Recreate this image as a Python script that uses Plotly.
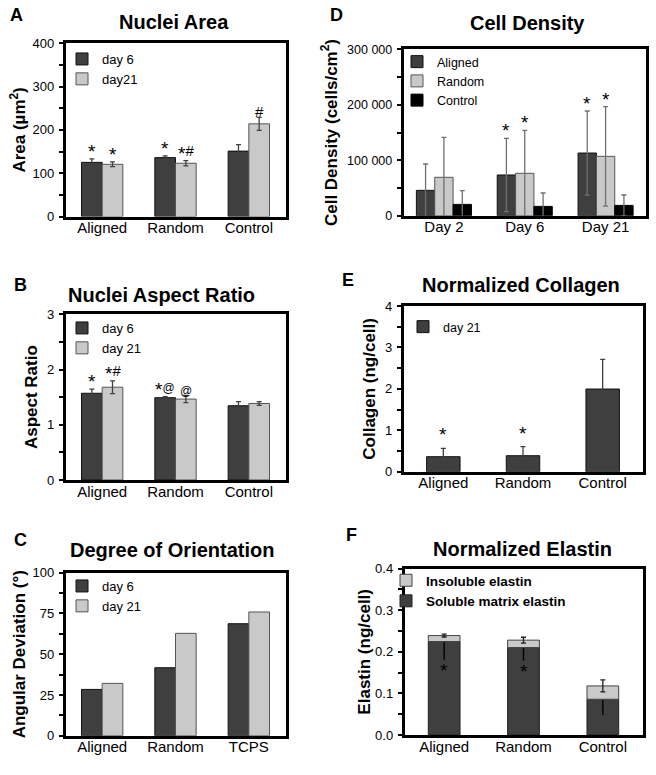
import plotly.graph_objects as go

W, H = 656, 775
FONT = "Liberation Sans, Arial, sans-serif"
DARK = "#3f3f3f"
LIGHT = "#c9c9c9"
BLACK = "#000000"

# ---------------- data ----------------
# A: Nuclei Area
a_cats = ["Aligned", "Random", "Control"]
a_day6 = [125, 136, 151]
a_day6_err = [8, 4, 15]
a_day21 = [120.5, 123, 214]
a_day21_err = [5.5, 6, 15]
a_day6_marks = ["*", "*", ""]
a_day21_marks = ["*", "*#", "#"]

# B: Nuclei Aspect Ratio
b_cats = ["Aligned", "Random", "Control"]
b_day6 = [1.57, 1.49, 1.345]
b_day6_err = [0.075, 0.02, 0.075]
b_day21 = [1.68, 1.465, 1.385]
b_day21_err = [0.115, 0.065, 0.035]
b_day6_marks = ["*", "*@", ""]
b_day21_marks = ["*#", "@", ""]

# C: Degree of Orientation
c_cats = ["Aligned", "Random", "TCPS"]
c_day6 = [28.4, 41.7, 68.7]
c_day21 = [32.1, 62.8, 75.9]

# D: Cell Density
d_cats = ["Day 2", "Day 6", "Day 21"]
d_aligned = [45700, 73400, 113000]
d_aligned_err = [47500, 66100, 75800]
d_random = [69200, 76400, 107000]
d_random_err = [72100, 77600, 89600]
d_control = [20400, 16800, 18600]
d_control_err = [24700, 24100, 18700]
d_aligned_marks = ["", "*", "*"]
d_random_marks = ["", "*", "*"]

# E: Normalized Collagen
e_cats = ["Aligned", "Random", "Control"]
e_day21 = [0.362, 0.386, 1.996]
e_day21_err = [0.2, 0.218, 0.716]
e_marks = ["*", "*", ""]

# F: Normalized Elastin
f_cats = ["Aligned", "Random", "Control"]
f_soluble = [0.2247, 0.2103, 0.0859]
f_soluble_err_minus = [0.044, 0.032, 0.038]
f_insoluble = [0.0143, 0.0177, 0.0321]
f_insoluble_err = [0.0034, 0.007, 0.0144]
f_marks = ["*", "*", ""]

# ---------------- layout helpers ----------------
def px_x(p):
    return p / W

def px_y(p):
    return 1 - p / H

fig = go.Figure()
annotations = []

panels = {
    # n: (x0, x1, y_top, y_bottom) in pixels
    1: (65.5, 285.5, 43.3, 216.5),
    2: (65.5, 285.5, 314.3, 480.0),
    3: (65.5, 285.5, 572.7, 735.7),
    4: (403.5, 646.0, 49.3, 215.7),
    5: (403.5, 642.5, 306.0, 471.7),
    6: (404.5, 642.5, 568.6, 735.0),
}

def axis_names(n):
    s = "" if n == 1 else str(n)
    return "x" + s, "y" + s, "xaxis" + s, "yaxis" + s, "legend" + s

MARK_STYLE = {"*": "font-size:19px",
              "#": "font-size:15px;baseline-shift:4px",
              "@": "font-size:12px;baseline-shift:4px"}

def style_mark(m):
    return "".join(
        "<span style='%s'>%s</span>" % (MARK_STYLE.get(c, "font-size:15px"), c)
        for c in m)

def add_bar(n, cats, vals, color, line_color, name, width, offset, err=None,
            err_minus=None, err_color="#404040", base=None, marks=None,
            mark_shift=-5, marks_below=False):
    xr, yr, _, _, lg = axis_names(n)
    kw = {}
    if err_minus is not None:
        kw["error_y"] = dict(type="data", symmetric=False,
                             array=[0] * len(vals), arrayminus=err_minus,
                             color=err_color, thickness=1.4, width=0)
    elif err is not None:
        kw["error_y"] = dict(type="data", array=err, color=err_color,
                             thickness=1.3, width=2.5)
    if base is not None:
        kw["base"] = base
    fig.add_trace(go.Bar(
        x=cats, y=vals, name=name, xaxis=xr, yaxis=yr, legend=lg,
        width=width, offset=offset,
        marker=dict(color=color, line=dict(color=line_color, width=1)),
        **kw))
    if marks:
        for i, m in enumerate(marks):
            if not m:
                continue
            if marks_below:
                yv = vals[i] - (err_minus[i] if err_minus else 0)
                anchor, shift = "top", 2
            else:
                b = base[i] if base is not None else 0
                yv = b + vals[i] + (err[i] if err else 0)
                anchor, shift = "bottom", mark_shift
            annotations.append(dict(
                x=i + offset + width / 2, y=yv, xref=xr, yref=yr,
                text=style_mark(m), showarrow=False, yanchor=anchor,
                yshift=shift, font=dict(family=FONT, size=15, color="black")))

def setup_axes(n, cats, yrange, dtick, minor, ytitle, tickformat=None,
               tickfont=13, standoff=4):
    x0, x1, yt, yb = panels[n]
    xr, yr, xa, ya, _ = axis_names(n)
    fig.layout[xa] = dict(
        domain=[px_x(x0), px_x(x1)], anchor=yr, type="category",
        range=[-0.5, len(cats) - 0.5], showline=True, linecolor="black",
        linewidth=2.5, mirror=True, ticks="", ticklen=0, showgrid=False,
        zeroline=False, automargin=False, ticklabelstandoff=-4,
        tickfont=dict(family=FONT, size=15, color="black"),
        fixedrange=True)
    yd = dict(
        domain=[px_y(yb), px_y(yt)], anchor=xr, range=yrange, dtick=dtick,
        tick0=0, showline=True, linecolor="black", linewidth=2.5, mirror=True,
        ticks="outside", ticklen=4, tickwidth=1.5, tickcolor="black",
        showgrid=False, zeroline=False, automargin=False,
        ticklabelstandoff=2,
        tickfont=dict(family=FONT, size=tickfont, color="black"),
        minor=dict(dtick=minor, ticks="outside", ticklen=4, tickwidth=1.5,
                   tickcolor="black", showgrid=False),
        title=dict(text=ytitle, standoff=standoff,
                   font=dict(family=FONT, size=17, color="black",
                             weight="bold")),
        fixedrange=True)
    if tickformat:
        yd["tickformat"] = tickformat
    fig.layout[ya] = yd

def add_legend(n, left_px, top_px, size=13, bold=False, order="normal"):
    lg = axis_names(n)[4]
    fig.layout[lg] = dict(
        x=px_x(left_px), y=px_y(top_px), xanchor="left", yanchor="top",
        bgcolor="rgba(0,0,0,0)", borderwidth=0, traceorder=order,
        font=dict(family=FONT, size=size, color="black",
                  weight="bold" if bold else "normal"))

def add_text(x_px, y_px, text, size, bold=True):
    annotations.append(dict(
        x=px_x(x_px), y=px_y(y_px), xref="paper", yref="paper",
        text=text, showarrow=False, xanchor="center", yanchor="middle",
        font=dict(family=FONT, size=size, color="black",
                  weight="bold" if bold else "normal")))

# ---------------- panel A ----------------
w2 = 0.282
add_bar(1, a_cats, a_day6, DARK, "#111111", "day 6", w2, -w2, err=a_day6_err,
        marks=a_day6_marks)
add_bar(1, a_cats, a_day21, LIGHT, "#555555", "day21", w2, 0, err=a_day21_err,
        marks=a_day21_marks)
setup_axes(1, a_cats, [0, 400], 100, 50, "Area (µm<sup>2</sup>)", standoff=3)
add_legend(1, 62, 44)

# ---------------- panel B ----------------
add_bar(2, b_cats, b_day6, DARK, "#111111", "day 6", w2, -w2, err=b_day6_err,
        marks=b_day6_marks)
add_bar(2, b_cats, b_day21, LIGHT, "#555555", "day 21", w2, 0,
        err=b_day21_err, marks=b_day21_marks)
setup_axes(2, b_cats, [0, 3], 1, 0.5, "Aspect Ratio", standoff=5)
add_legend(2, 62, 313)

# ---------------- panel C ----------------
add_bar(3, c_cats, c_day6, DARK, "#111111", "day 6", w2, -w2)
add_bar(3, c_cats, c_day21, LIGHT, "#555555", "day 21", w2, 0)
setup_axes(3, c_cats, [0, 100], 25, 12.5, "Angular Deviation (°)", standoff=3)
add_legend(3, 62, 571)

# ---------------- panel D ----------------
w3 = 0.227
add_bar(4, d_cats, d_aligned, DARK, "#111111", "Aligned", w3, -1.5 * w3,
        err=d_aligned_err, err_color="#707070", marks=d_aligned_marks)
add_bar(4, d_cats, d_random, LIGHT, "#555555", "Random", w3, -0.5 * w3,
        err=d_random_err, err_color="#707070", marks=d_random_marks)
add_bar(4, d_cats, d_control, BLACK, "#000000", "Control", w3, 0.5 * w3,
        err=d_control_err, err_color="#707070")
setup_axes(4, d_cats, [0, 300000], 100000, 50000,
           "Cell Density (cells/cm<sup>2</sup>)", tickformat=",d",
           tickfont=12.5, standoff=6)
add_legend(4, 397, 47, size=12.5)

# ---------------- panel E ----------------
we = 0.42
add_bar(5, e_cats, e_day21, DARK, "#111111", "day 21", we, -we / 2,
        err=e_day21_err, marks=e_marks, mark_shift=1)
setup_axes(5, e_cats, [0, 4], 1, 0.5, "Collagen (ng/cell)", standoff=5)
add_legend(5, 403, 312, size=12.5)

# ---------------- panel F ----------------
wf = 0.40
add_bar(6, f_cats, f_soluble, DARK, "#222222", "Soluble matrix elastin", wf,
        -wf / 2, err_minus=f_soluble_err_minus, err_color="#000000",
        marks=f_marks, marks_below=True)
add_bar(6, f_cats, f_insoluble, LIGHT, "#444444", "Insoluble elastin", wf,
        -wf / 2, err=f_insoluble_err, err_color="#202020", base=f_soluble)
setup_axes(6, f_cats, [0, 0.4], 0.1, 0.05, "Elastin (ng/cell)",
           tickformat=".1f", standoff=1)
add_legend(6, 386, 565, size=13.5, bold=True, order="reversed")

# ---------------- titles and panel letters ----------------
add_text(174, 22, "Nuclei Area", 20)
add_text(161, 295, "Nuclei Aspect Ratio", 20)
add_text(172, 550, "Degree of Orientation", 20)
add_text(527, 23, "Cell Density", 20)
add_text(521, 285, "Normalized Collagen", 20)
add_text(522, 549, "Normalized Elastin", 20)

add_text(16.7, 15, "A", 18)
add_text(20, 285, "B", 18)
add_text(20, 540, "C", 18)
add_text(336.7, 15, "D", 18)
add_text(347.5, 280, "E", 18)
add_text(351.7, 535, "F", 18)

fig.update_layout(
    width=W, height=H,
    margin=dict(l=0, r=0, t=0, b=0, pad=0, autoexpand=False),
    paper_bgcolor="white", plot_bgcolor="white",
    barmode="overlay", separators=". ",
    font=dict(family=FONT, color="black"),
    annotations=annotations, showlegend=True,
)

fig.write_html(
    "out.html",
    config={"displayModeBar": False, "staticPlot": False},
    post_script="document.body.style.margin='0px';"
                "document.body.style.overflow='hidden';")
